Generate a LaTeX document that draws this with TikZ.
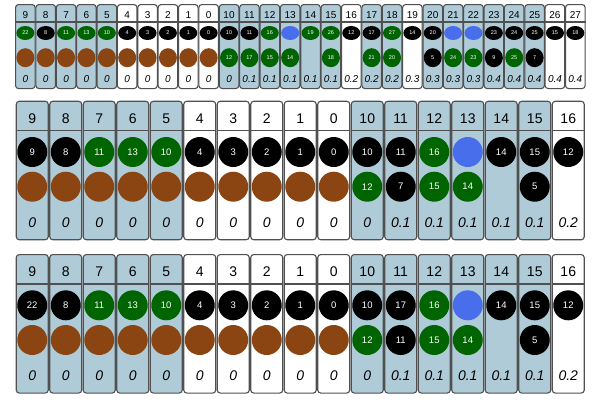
\documentclass[tikz,border=0pt]{standalone}
\usepackage{fontspec}
\setmainfont{Liberation Sans}
\usepackage{tikz}
\usetikzlibrary{shapes.geometric}

\definecolor{cardblue}{RGB}{175,203,215}
\definecolor{edgegrey}{RGB}{80,80,80}
\definecolor{blk}{RGB}{0,0,0}
\definecolor{grn}{RGB}{0,100,0}
\definecolor{brn}{RGB}{139,69,19}
\definecolor{blu}{RGB}{72,110,235}

\tikzset{
  card/.style={draw=edgegrey, line width=1.1pt, rounded corners=3pt, inner sep=0pt},
  cardline/.style={draw=edgegrey, line width=1.1pt},
  headtxt/.style={inner sep=0pt, font=\headfont},
  disc/.style={ellipse, inner sep=0pt, text=white, font=\discfont},
  valtxt/.style={inner sep=0pt, font=\valfont\itshape},
}

% one row of cards: #1 = prefix of the node names, #2 = the cards
\newcommand\cardrow[2]{%
  \foreach \lab/\bg/\ca/\ta/\cb/\tb/\val [count=\i from 0] in {#2}{
    \node[card, fill=\bg, minimum width=\cw, minimum height=\ch, anchor=north west]
      (#1\i) at (\cx+\i*\cp, \cy) {};
    \draw[cardline] ([yshift=-\hd]#1\i.north west) -- ([yshift=-\hd]#1\i.north east);
    \node[headtxt] (#1\i-h) at ([yshift=-\hy]#1\i.north) {\lab};
    \node[disc, fill=\ca, minimum width=\dw, minimum height=\dha] (#1\i-a)
      at ([yshift=-\ya]#1\i.north) {\ta};
    \node[disc, fill=\cb, minimum width=\dw, minimum height=\dhb] (#1\i-b)
      at ([yshift=-\yb]#1\i.north) {\tb};
    \node[valtxt] (#1\i-v) at ([yshift=-\yv]#1\i.north) {\val};
  }}

\begin{document}
\begin{tikzpicture}[x=1pt, y=-1pt]
  \useasboundingbox (0,0) rectangle (600,400);

  % Hàng trên: 28 thẻ nhỏ
  \def\cx{15}\def\cp{20.37}\def\cy{4}
  \def\cw{19.6pt}\def\ch{84pt}\def\hd{18pt}\def\hy{11pt}
  \def\ya{29pt}\def\yb{53.7pt}\def\yv{75pt}
  \def\dw{18pt}\def\dha{14pt}\def\dhb{19pt}
  \def\headfont{\fontsize{10}{12}\selectfont}
  \def\discfont{\fontsize{5.5}{6}\selectfont}
  \def\valfont{\fontsize{10}{12}\selectfont}
  \cardrow{t}{9/cardblue/grn/22/brn/{}/0, 8/cardblue/blk/8/brn/{}/0,
    7/cardblue/grn/11/brn/{}/0, 6/cardblue/grn/13/brn/{}/0,
    5/cardblue/grn/10/brn/{}/0, 4/white/blk/4/brn/{}/0,
    3/white/blk/3/brn/{}/0, 2/white/blk/2/brn/{}/0,
    1/white/blk/1/brn/{}/0, 0/white/blk/0/brn/{}/0,
    10/cardblue/blk/10/grn/12/0, 11/cardblue/blk/11/grn/17/0.1,
    12/cardblue/grn/16/grn/15/0.1, 13/cardblue/blu/{}/grn/14/0.1,
    14/cardblue/grn/19/none/{}/0.1, 15/cardblue/grn/26/grn/18/0.1,
    16/white/blk/12/none/{}/0.2, 17/cardblue/blk/17/grn/21/0.2,
    18/cardblue/grn/27/grn/20/0.2, 19/white/blk/14/none/{}/0.3,
    20/cardblue/blk/20/blk/5/0.3, 21/cardblue/blu/{}/grn/24/0.3,
    22/cardblue/blu/{}/grn/23/0.3, 23/cardblue/blk/23/blk/9/0.4,
    24/cardblue/blk/24/grn/25/0.4, 25/cardblue/blk/25/blk/7/0.4,
    26/white/blk/15/none/{}/0.4, 27/white/blk/18/none/{}/0.4}

  % Hàng giữa và hàng dưới: 17 thẻ lớn
  \def\cx{15.7}\def\cp{33.5}
  \def\cw{32pt}\def\ch{138.5pt}\def\hd{30pt}\def\hy{17.6pt}
  \def\ya{51.3pt}\def\yb{86pt}\def\yv{122pt}
  \def\dw{30pt}\def\dha{30pt}\def\dhb{30pt}
  \def\headfont{\fontsize{14}{16}\selectfont}
  \def\discfont{\fontsize{9.5}{11}\selectfont}
  \def\valfont{\fontsize{14}{16}\selectfont}

  \def\cy{100.7}
  \cardrow{m}{9/cardblue/blk/9/brn/{}/0, 8/cardblue/blk/8/brn/{}/0,
    7/cardblue/grn/11/brn/{}/0, 6/cardblue/grn/13/brn/{}/0,
    5/cardblue/grn/10/brn/{}/0, 4/white/blk/4/brn/{}/0,
    3/white/blk/3/brn/{}/0, 2/white/blk/2/brn/{}/0,
    1/white/blk/1/brn/{}/0, 0/white/blk/0/brn/{}/0,
    10/cardblue/blk/10/grn/12/0, 11/cardblue/blk/11/blk/7/0.1,
    12/cardblue/grn/16/grn/15/0.1, 13/cardblue/blu/{}/grn/14/0.1,
    14/cardblue/blk/14/none/{}/0.1, 15/cardblue/blk/15/blk/5/0.1,
    16/white/blk/12/none/{}/0.2}

  \def\cy{254}
  \cardrow{b}{9/cardblue/blk/22/brn/{}/0, 8/cardblue/blk/8/brn/{}/0,
    7/cardblue/grn/11/brn/{}/0, 6/cardblue/grn/13/brn/{}/0,
    5/cardblue/grn/10/brn/{}/0, 4/white/blk/4/brn/{}/0,
    3/white/blk/3/brn/{}/0, 2/white/blk/2/brn/{}/0,
    1/white/blk/1/brn/{}/0, 0/white/blk/0/brn/{}/0,
    10/cardblue/blk/10/grn/12/0, 11/cardblue/blk/17/blk/11/0.1,
    12/cardblue/grn/16/grn/15/0.1, 13/cardblue/blu/{}/grn/14/0.1,
    14/cardblue/blk/14/none/{}/0.1, 15/cardblue/blk/15/blk/5/0.1,
    16/white/blk/12/none/{}/0.2}
\end{tikzpicture}
\end{document}
